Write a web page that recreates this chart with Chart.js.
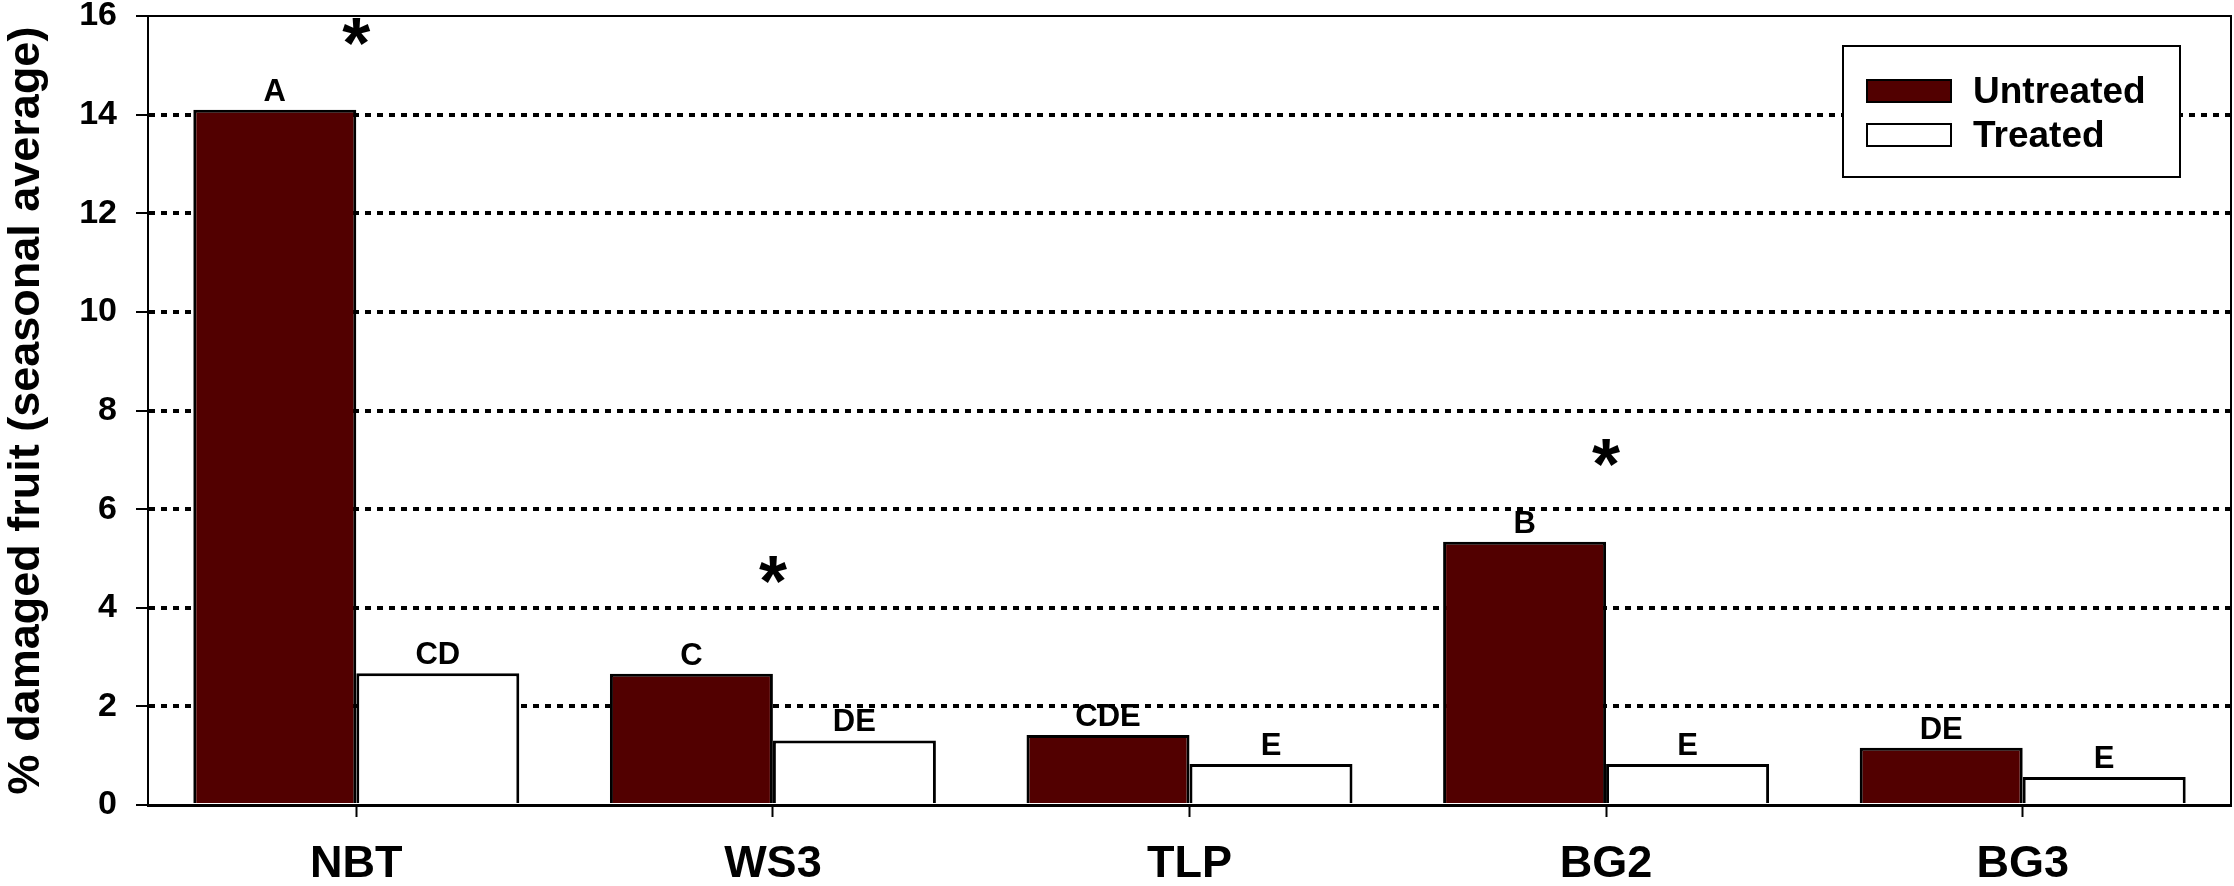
<!DOCTYPE html>
<html>
<head>
<meta charset="utf-8">
<script src="https://cdn.jsdelivr.net/npm/chart.js@4.4.1/dist/chart.umd.min.js"></script>
<style>
  html, body { margin: 0; padding: 0; background: #ffffff; }
  #wrap { width: 2234px; height: 886px; position: relative; }
</style>
</head>
<body>
<div id="wrap"><canvas id="chart" width="2234" height="886"></canvas></div>
<script>
// Sites sampled and the seasonal average of damaged fruit (%)
const sites = ['NBT', 'WS3', 'TLP', 'BG2', 'BG3'];
const untreated = [14.1, 2.66, 1.42, 5.34, 1.16];
const treated = [2.67, 1.31, 0.83, 0.83, 0.57];

// Mean-separation letters written over each bar
const untreatedGroups = ['A', 'C', 'CDE', 'B', 'DE'];
const treatedGroups = ['CD', 'DE', 'E', 'E', 'E'];

// Significant untreated/treated difference: level (in %) where the asterisk sits
const significanceMarks = [15.68, 4.77, null, 7.14, null];

// Value axis ticks
const yTicks = [0, 2, 4, 6, 8, 10, 12, 14, 16];

const FONT = "'Liberation Sans', Arial, Helvetica, sans-serif";
const MAROON = '#520000';

const annotations = {
  id: 'annotations',
  afterDatasetsDraw(chart) {
    const { ctx, chartArea, scales } = chart;
    ctx.save();

    // plot frame: top and right edges
    ctx.strokeStyle = '#000';
    ctx.lineWidth = 2;
    ctx.beginPath();
    ctx.moveTo(chartArea.left, chartArea.top);
    ctx.lineTo(chartArea.right, chartArea.top);
    ctx.lineTo(chartArea.right, chartArea.bottom);
    ctx.stroke();

    // group letters above the bars
    const groups = [untreatedGroups, treatedGroups];
    ctx.fillStyle = '#000';
    ctx.font = 'bold 31px ' + FONT;
    ctx.textAlign = 'center';
    ctx.textBaseline = 'alphabetic';
    chart.data.datasets.forEach((ds, di) => {
      const meta = chart.getDatasetMeta(di);
      meta.data.forEach((bar, i) => {
        ctx.fillText(groups[di][i], bar.x, bar.y - 9);
      });
    });

    // asterisks for significant differences
    ctx.font = 'bold 72px ' + FONT;
    ctx.textAlign = 'left';
    const m = ctx.measureText('*');
    const gw = m.actualBoundingBoxRight + m.actualBoundingBoxLeft;
    significanceMarks.forEach((lvl, i) => {
      if (lvl === null) return;
      const cx = scales.x.getPixelForValue(i);
      const cy = scales.y.getPixelForValue(lvl);
      const bx = cx - gw / 2 + m.actualBoundingBoxLeft;
      const by = cy + (m.actualBoundingBoxAscent - m.actualBoundingBoxDescent) / 2;
      ctx.fillText('*', bx, by);
    });

    // legend box
    const lx = 1843, ly = 46, lw = 337, lh = 131;
    ctx.fillStyle = '#fff';
    ctx.fillRect(lx, ly, lw, lh);
    ctx.strokeStyle = '#000';
    ctx.lineWidth = 2;
    ctx.strokeRect(lx, ly, lw, lh);
    ctx.font = 'bold 37px ' + FONT;
    ctx.textAlign = 'left';
    ctx.textBaseline = 'alphabetic';
    chart.data.datasets.forEach((ds, di) => {
      const sy = 80 + di * 44;
      ctx.fillStyle = ds.backgroundColor;
      ctx.fillRect(1867, sy, 84, 22);
      ctx.strokeStyle = '#000';
      ctx.lineWidth = 2;
      ctx.strokeRect(1867, sy, 84, 22);
      ctx.fillStyle = '#000';
      ctx.fillText(ds.label, 1973, sy + 23);
    });

    ctx.restore();
  }
};

new Chart(document.getElementById('chart'), {
  type: 'bar',
  data: {
    labels: sites,
    datasets: [
      {
        label: 'Untreated',
        data: untreated,
        backgroundColor: MAROON,
        borderColor: '#000',
        borderWidth: 3,
        categoryPercentage: 0.7825,
        barPercentage: 1.0
      },
      {
        label: 'Treated',
        data: treated,
        backgroundColor: '#ffffff',
        borderColor: '#000',
        borderWidth: 3,
        categoryPercentage: 0.7825,
        barPercentage: 1.0
      }
    ]
  },
  options: {
    responsive: false,
    animation: false,
    devicePixelRatio: 1,
    layout: { padding: { top: 16, right: 3, left: 0, bottom: 0 } },
    plugins: {
      legend: { display: false },
      tooltip: { enabled: false }
    },
    scales: {
      x: {
        type: 'category',
        offset: true,
        grid: {
          drawOnChartArea: false,
          drawTicks: true,
          offset: false,
          tickLength: 12,
          tickColor: '#000',
          tickWidth: 2
        },
        border: { display: true, color: '#000', width: 3 },
        ticks: {
          color: '#000',
          font: { family: FONT, size: 45, weight: 'bold' },
          padding: 21,
          maxRotation: 0,
          autoSkip: false
        },
        afterFit(s) {
          s.height = 81;
          s.paddingLeft = 0;
          s.paddingRight = 0;
        }
      },
      y: {
        min: 0,
        max: 16,
        afterBuildTicks(s) {
          s.ticks = yTicks.map(v => ({ value: v }));
        },
        grid: {
          color: c => (c.tick && (c.tick.value === 0 || c.tick.value === 16)) ? 'rgba(0,0,0,0)' : '#000',
          lineWidth: 4,
          drawTicks: true,
          tickLength: 12,
          tickColor: '#000',
          tickWidth: 2
        },
        border: { display: true, color: '#000', width: 2, dash: [6, 6] },
        ticks: {
          color: '#000',
          font: { family: FONT, size: 34, weight: 'bold' },
          padding: 19
        },
        title: {
          display: true,
          text: '% damaged fruit (seasonal average)',
          color: '#000',
          font: { family: FONT, size: 45, weight: 'bold' },
          padding: 0
        },
        afterFit(s) {
          s.width = 148;
          s.paddingTop = 0;
          s.paddingBottom = 0;
        }
      }
    }
  },
  plugins: [annotations]
});
</script>
</body>
</html>
